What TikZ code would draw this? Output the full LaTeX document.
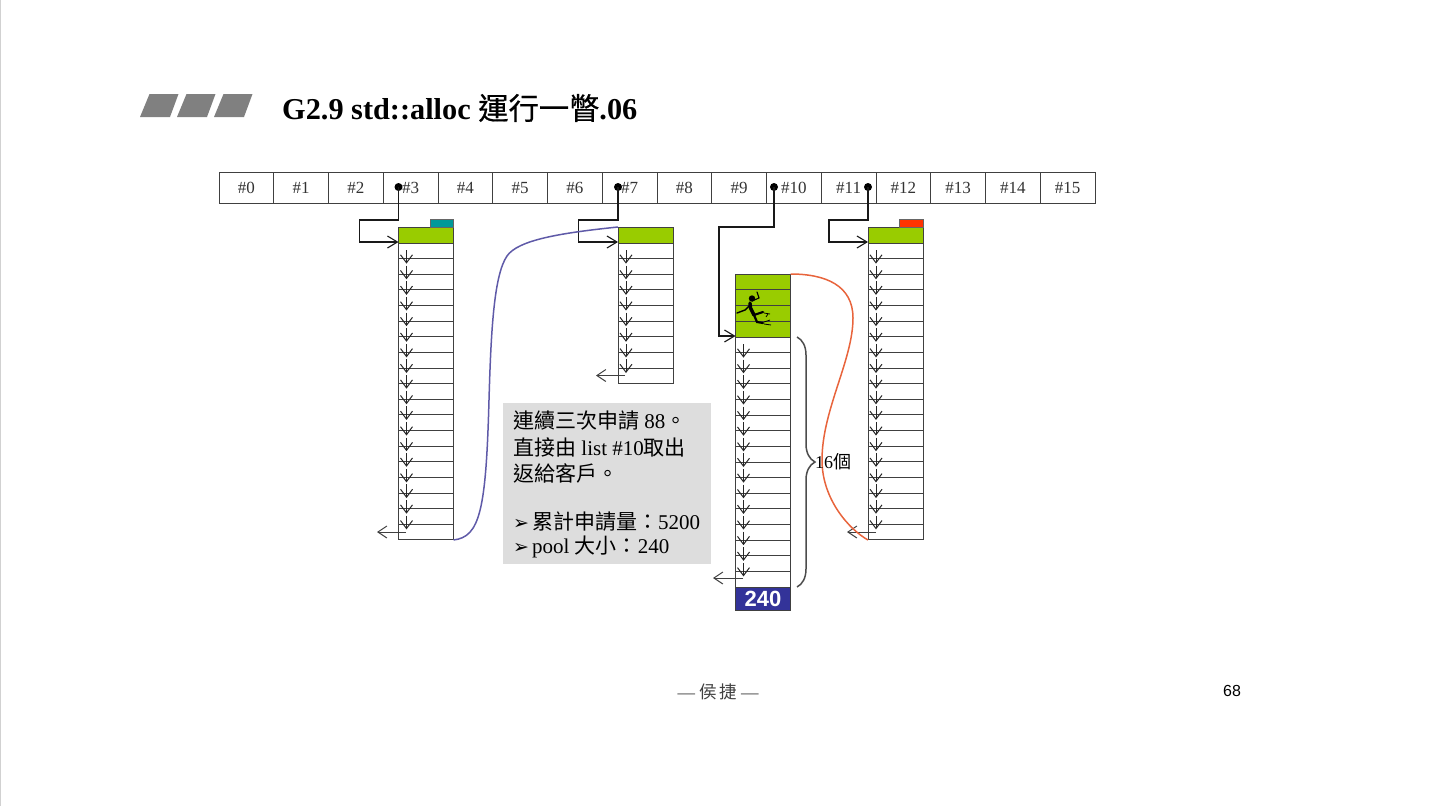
\documentclass[tikz,border=0pt]{standalone}
\usepackage{fontspec}
\setmainfont{Liberation Serif}
\newfontfamily\cjkfont{Noto Sans CJK TC}
\newfontfamily\cjktitle[FakeBold=0.5]{Noto Sans CJK TC}
\newfontfamily\arialfont{Liberation Sans}
\newfontfamily\symfont{DejaVu Sans}
\usepackage{tikz}
\usetikzlibrary{positioning,calc,arrows.meta,decorations.pathreplacing}

\definecolor{chunkgreen}{HTML}{99CC00}
\definecolor{poolblue}{HTML}{333399}
\definecolor{tealtag}{HTML}{009999}
\definecolor{redtag}{HTML}{FF3300}
\definecolor{linkblue}{HTML}{5F5AA8}
\definecolor{linkorange}{HTML}{E8643C}
\definecolor{notegray}{HTML}{DDDDDD}

\tikzset{
  slotbox/.style={draw=black!75, line width=1pt, outer sep=0pt, minimum width=54.75pt, minimum height=31pt, inner sep=0pt, text height=11.5pt, text depth=0pt, text=black!80, font=\fontsize{17}{17}\selectfont},
  cellbox/.style={draw=black!75, line width=1pt, outer sep=0pt, minimum width=55pt, inner sep=0pt, anchor=north west},
  greenbox/.style={cellbox, fill=chunkgreen},
  tagbox/.style={draw=black!60, line width=0.8pt, outer sep=0pt, anchor=north east, minimum height=8pt, inner sep=0pt},
  ptrline/.style={black!90, line width=1.1pt, -{Straight Barb[length=10pt,width=12pt,line width=1.1pt]}},
  nextline/.style={black!85, line width=0.9pt, -{Straight Barb[length=8pt,width=12pt,line width=1pt]}},
  backline/.style={black!75, line width=1pt, -{Straight Barb[length=9pt,width=12pt,line width=1pt]}},
  ptrdot/.style={circle, fill=black, inner sep=0pt, minimum size=8pt}
}

% cell stack: #1 name, #2 left, #3 top, #4 number of cells
\newcommand{\cellstack}[4]{
  \foreach \i [evaluate=\i as \ytop using #3+(\i-1)*15.63] in {1,...,#4}
    \node[cellbox, minimum height=15.63pt] (#1c\i) at (#2,\ytop) {};
  \pgfmathtruncatemacro{\lastarrow}{#4-1}
  \foreach \i [evaluate=\i as \ya using #3+(\i-1)*15.63+7, evaluate=\i as \yb using #3+\i*15.63+5] in {1,...,\lastarrow}
    \draw[nextline] (#2+8,\ya) -- (#2+8,\yb);
}
\newcommand{\notemark}{\makebox[19pt][l]{\symfont\fontsize{19}{19}\selectfont ➢}}

\begin{document}
\begin{tikzpicture}[x=1pt, y=-1pt]
  \useasboundingbox (0,0) rectangle (1433,806);
  \draw[black!18, line width=1.2pt] (0.5,0) -- (0.5,806);

  % Title
  \foreach \xa in {140,177,214}
    \fill[black!50] (\xa,117) -- (\xa+30,117) -- (\xa+38.5,94) -- (\xa+9.5,94) -- cycle;
  \node[anchor=west, inner sep=0pt, font=\fontsize{30.3}{30.3}\selectfont\bfseries] (title) at (282,108) {G2.9 std::alloc {\mdseries\cjktitle 運行一瞥}.06};

  % Free list slots
  \foreach \n in {0,...,15}
    \node[slotbox] (slot\n) at (246.4+54.75*\n,187.5) {\#\n};

  % Chunk lists
  \node[greenbox, minimum height=16pt] (headA) at (398.5,227) {};
  \node[tagbox, fill=tealtag, minimum width=23.5pt] (tagA) at (453.5,219) {};
  \cellstack{A}{398.5}{243}{19}

  \node[greenbox, minimum height=16pt] (headB) at (618,227) {};
  \cellstack{B}{618}{243}{9}

  \foreach \i in {0,...,3}
    \node[greenbox, minimum height=15.75pt] (headC\i) at (735.5,274+15.75*\i) {};
  \cellstack{C}{735.5}{337}{16}
  \node[cellbox, fill=poolblue, minimum height=23pt] (pool) at (735.5,587) {};
  \node[text=white, font=\arialfont\bfseries\fontsize{22}{22}\selectfont, inner sep=0pt] (poolsize) at (pool.center) {240};

  \node[greenbox, minimum height=16pt] (headD) at (868,227) {};
  \node[tagbox, fill=redtag, minimum width=24pt] (tagD) at (923,219) {};
  \cellstack{D}{868}{243}{19}

  % Runner on the chunks
  \fill[black] (752,298.5) circle (3.2pt);
  \draw[black, line width=3.4pt, line cap=round] (750,303) -- (750.5,308) -- (754,315);
  \draw[black, line width=1.4pt, line cap=round] (750,305) -- (745,310) -- (737,313);
  \draw[black, line width=1.1pt, line cap=round] (752,301) -- (759,298) -- (757,292);
  \draw[black, line width=2.2pt, line cap=round] (754,315) -- (763,312) (754,315) -- (757,322) -- (763,323);
  \draw[black, line width=0.8pt] (764,313) -- (770,314) (764,322) -- (770,320) (764,324) -- (771,325) (766,317) -- (768,314);

  % Pointers out of the slots
  \node[ptrdot] (dotA) at (398.5,187) {};
  \node[ptrdot] (dotB) at (618,187) {};
  \node[ptrdot] (dotC) at (774,187) {};
  \node[ptrdot] (dotD) at (868,187) {};
  \draw[ptrline] (dotA.center) -- (398.5,220) -- (359.5,220) -- (359.5,242) -- (398.5,242);
  \draw[ptrline] (dotB.center) -- (618,220) -- (578.5,220) -- (578.5,242) -- (618,242);
  \draw[ptrline] (dotC.center) -- (774,227) -- (719,227) -- (719,336) -- (735.5,336);
  \draw[ptrline] (dotD.center) -- (868,220) -- (829,220) -- (829,242) -- (868,242);

  % Last links
  \draw[backline] (406,532) -- (377,532);
  \draw[backline] (625,375.5) -- (596,375.5);
  \draw[backline] (743,578) -- (713,578);
  \draw[backline] (876,532) -- (847,532);

  % Curves between lists
  \draw[linkblue, line width=1.5pt] (453.5,540) .. controls (480,537) and (486,510) .. (489,400) .. controls (491,330) and (494,275) .. (507,256) .. controls (518,240) and (560,233) .. (618,227);
  \draw[linkorange, line width=1.5pt] (790.5,274) .. controls (825,274) and (853,285) .. (853,318) .. controls (853,360) and (822,410) .. (822,460) .. controls (822,500) and (850,530) .. (868,540);

  % Brace and count
  \draw[black!70, line width=1.5pt, decorate, decoration={brace, amplitude=18pt}] (797,337) -- (797,587);
  \node[anchor=west, inner sep=0pt, font=\fontsize{18}{18}\selectfont] (count) at (815,462) {16{\cjkfont 個}};

  % Note
  \node[fill=notegray, anchor=north west, minimum width=208pt, minimum height=161pt, inner sep=0pt] (note) at (503,403) {};
  \begin{scope}[every node/.style={anchor=west, inner sep=0pt, font=\fontsize{21}{21}\selectfont}]
    \node (lineA) at (513,421) {{\cjkfont 連續三次申請} 88{\cjkfont 。}};
    \node (lineB) at (513,447) {{\cjkfont 直接由} list \#10{\cjkfont 取出}};
    \node (lineC) at (513,473) {{\cjkfont 返給客戶。}};
    \node (lineD) at (513,522) {\notemark{\cjkfont 累計申請量：}5200};
    \node (lineE) at (513,547) {\notemark pool {\cjkfont 大小：}240};
  \end{scope}

  % Footer
  \node[inner sep=0pt, text=black!75, font=\fontsize{17.5}{17.5}\selectfont] (author) at (718,692) {—\hspace{4pt}{\cjkfont 侯}\hspace{3pt}{\cjkfont 捷}\hspace{4pt}—};
  \node[inner sep=0pt, font=\arialfont\fontsize{16}{16}\selectfont] (page) at (1232,691) {68};
\end{tikzpicture}
\end{document}
